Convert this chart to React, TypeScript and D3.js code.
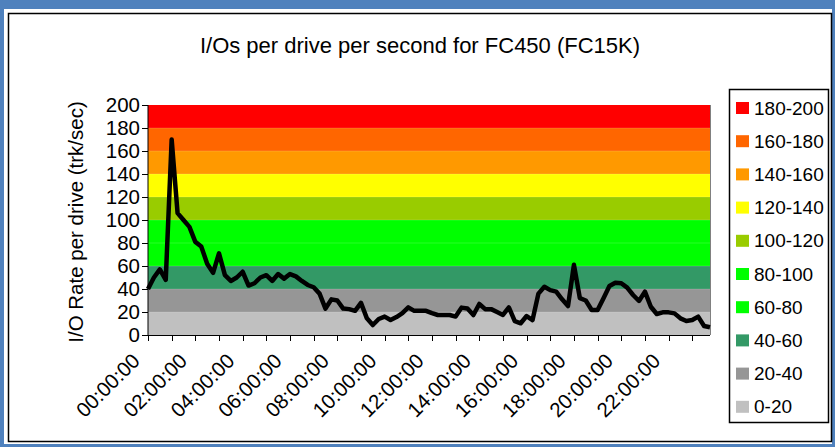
import React from 'react';
import * as d3 from 'd3';

// I/O rate per drive, one reading every 15 minutes (96 readings)
const ioRate = [
  40, 50, 57, 48, 170, 106, 100, 94, 81, 77,
  62, 54, 71, 52, 47, 50, 55, 43, 45, 50,
  52, 47, 53, 49, 53, 51, 47, 43.5, 41.5, 36,
  23, 31, 30, 23, 22.5, 21, 28, 14.5, 8.7, 13.9,
  16, 13, 15.6, 19, 24, 21, 21, 21, 19, 17.4,
  17.4, 17.4, 16, 23.8, 23, 17.4, 27, 22.5, 22.5, 20,
  17.4, 24, 12, 10.2, 16.5, 13, 36, 42, 39, 37.7,
  31, 25.2, 61, 32, 30, 21.7, 21.7, 32, 42.6, 45.5,
  45, 41.2, 34.8, 29.6, 37.7, 24.6, 18.3, 19.7, 19.7, 18.8,
  14.5, 12.2, 13, 16, 7.8, 6.7,
];

const xTickLabels = [
  '00:00:00', '02:00:00', '04:00:00', '06:00:00', '08:00:00', '10:00:00',
  '12:00:00', '14:00:00', '16:00:00', '18:00:00', '20:00:00', '22:00:00',
];
const yTicks = [0, 20, 40, 60, 80, 100, 120, 140, 160, 180, 200];

const bandLabels = ['0-20', '20-40', '40-60', '60-80', '80-100', '100-120', '120-140', '140-160', '160-180', '180-200'];
const bandFrom = [0, 20, 40, 60, 80, 100, 120, 140, 160, 180];
const bandTo = [20, 40, 60, 80, 100, 120, 140, 160, 180, 200];
const bandColors = ['#C0C0C0', '#969696', '#339966', '#00FF00', '#00FF00', '#99CC00', '#FFFF00', '#FF9900', '#FF6600', '#FF0000'];

const W = 835;
const H = 447;
const plot = { left: 148, right: 710, top: 105, bottom: 335 };
const font = 'Arial, "Liberation Sans", sans-serif';

export default function App() {
  const x = d3.scaleLinear().domain([0, ioRate.length - 1]).range([plot.left, plot.right]);
  const y = d3.scaleLinear().domain([0, 200]).range([plot.bottom, plot.top]);

  const line = d3.line<number>()
    .x((d, i) => x(i))
    .y((d) => y(d));

  const hourTicks = d3.range(0, ioRate.length - 1, 4);
  // legend goes top-down from the highest band
  const legendOrder = d3.range(bandLabels.length).reverse();

  return (
    <div style={{ position: 'absolute', left: 0, top: 0 }}>
      <svg width={W} height={H} style={{ display: 'block' }} fontFamily={font}>
        <rect x={0} y={0} width={W} height={H} fill="#4F81BD" />
        <rect x={4} y={9} width={828} height={435} fill="#fff" />
        <rect x={8.5} y={13.5} width={823} height={428} fill="#fff" stroke="#000" strokeWidth={1.5} />

        <text x={420} y={53} textAnchor="middle" fontSize={22} fill="#000">
          I/Os per drive per second for FC450 (FC15K)
        </text>

        {bandFrom.map((b, i) => (
          <rect
            key={'band' + i}
            x={plot.left}
            y={y(bandTo[i])}
            width={plot.right - plot.left}
            height={y(b) - y(bandTo[i])}
            fill={bandColors[i]}
          />
        ))}
        {bandFrom.slice(1).map((b) => (
          <line key={'bl' + b} x1={plot.left} x2={plot.right} y1={y(b)} y2={y(b)} stroke="#fff" strokeOpacity={0.15} />
        ))}
        <line x1={plot.right + 0.5} x2={plot.right + 0.5} y1={plot.top} y2={plot.bottom} stroke="#808080" />

        <path d={line(ioRate) || ''} fill="none" stroke="#000" strokeWidth={4.5} strokeLinejoin="round" />

        {/* axes */}
        <line x1={plot.left} x2={plot.left} y1={plot.top} y2={plot.bottom} stroke="#000" />
        <line x1={plot.left} x2={plot.right} y1={plot.bottom + 0.5} y2={plot.bottom + 0.5} stroke="#000" />
        {yTicks.map((t) => (
          <g key={'yt' + t}>
            <line x1={plot.left - 6} x2={plot.left} y1={y(t) + 0.5} y2={y(t) + 0.5} stroke="#000" />
            <text x={140} y={y(t)} dy="0.35em" textAnchor="end" fontSize={20.5}>{t}</text>
          </g>
        ))}
        {hourTicks.map((i) => (
          <line key={'xt' + i} x1={Math.round(x(i)) + 0.5} x2={Math.round(x(i)) + 0.5} y1={plot.bottom} y2={plot.bottom + 6} stroke="#000" />
        ))}
        {xTickLabels.map((lab, k) => (
          <text
            key={lab}
            transform={`translate(${x(k * 8) - 12},${357}) rotate(-45)`}
            dy="0.35em"
            textAnchor="end"
            fontSize={20.5}
          >
            {lab}
          </text>
        ))}
        <text transform={`translate(76,${(plot.top + plot.bottom) / 2 + 2}) rotate(-90)`} textAnchor="middle" dy="0.35em" fontSize={20.5}>
          I/O Rate per drive (trk/sec)
        </text>

        {/* legend */}
        <rect x={729.5} y={89.5} width={99} height={333} fill="#fff" stroke="#000" strokeWidth={1.5} />
        {legendOrder.map((bi, row) => (
          <g key={'lg' + bi} transform={`translate(736,${108 + row * 33.2})`}>
            <rect x={0} y={-6} width={13} height={12} fill={bandColors[bi]} />
            <text x={18} y={0} dy="0.35em" fontSize={19}>{bandLabels[bi]}</text>
          </g>
        ))}
      </svg>
    </div>
  );
}
